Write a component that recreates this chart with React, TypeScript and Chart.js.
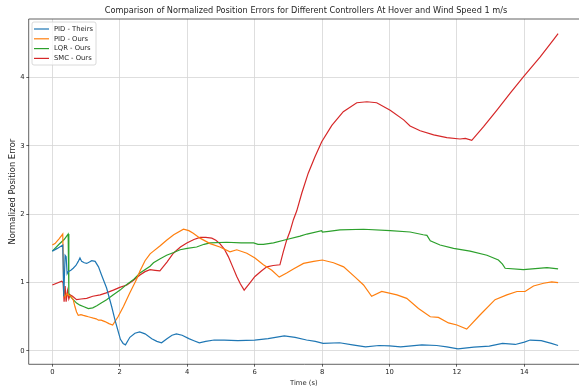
import React, { useEffect, useRef } from "react";
import { Chart, registerables } from "chart.js";

Chart.register(...registerables);

const titleText = "Comparison of Normalized Position Errors for Different Controllers At Hover and Wind Speed 1 m/s";
const xLabel = "Time (s)";
const yLabel = "Normalized Position Error";
const xTicks = [0, 2, 4, 6, 8, 10, 12, 14];
const yTicks = [0, 1, 2, 3, 4];
const seriesNames = ["PID - Theirs", "PID - Ours", "LQR - Ours", "SMC - Ours"];
const seriesColors = ["#1f77b4", "#ff7f0e", "#2ca02c", "#d62728"];

const tPidTheirs = [0, 0.15, 0.31, 0.34, 0.38, 0.41, 0.44, 0.47, 0.55, 0.62, 0.7, 0.77, 0.82, 0.87, 0.95, 1.02, 1.1, 1.17, 1.27, 1.37, 1.46, 1.61, 1.76, 1.86, 1.94, 2.02, 2.1, 2.17, 2.3, 2.45, 2.59, 2.75, 2.95, 3.1, 3.24, 3.4, 3.55, 3.68, 3.85, 4.05, 4.2, 4.36, 4.55, 4.8, 5.1, 5.5, 6.0, 6.4, 6.88, 7.2, 7.54, 7.8, 8.03, 8.52, 8.9, 9.29, 9.69, 10.0, 10.33, 10.65, 10.96, 11.4, 11.7, 12.03, 12.5, 12.96, 13.35, 13.73, 14.0, 14.17, 14.5, 14.8, 15.0];
const yPidTheirs = [1.46, 1.5, 1.55, 0.8, 1.4, 1.38, 1.13, 1.16, 1.18, 1.21, 1.25, 1.31, 1.36, 1.31, 1.29, 1.28, 1.3, 1.32, 1.31, 1.23, 1.11, 0.92, 0.65, 0.45, 0.31, 0.17, 0.11, 0.09, 0.2, 0.26, 0.28, 0.25, 0.18, 0.14, 0.12, 0.18, 0.23, 0.25, 0.23, 0.18, 0.15, 0.12, 0.14, 0.16, 0.16, 0.15, 0.16, 0.18, 0.22, 0.2, 0.16, 0.14, 0.11, 0.12, 0.09, 0.06, 0.08, 0.075, 0.06, 0.075, 0.09, 0.08, 0.06, 0.03, 0.055, 0.07, 0.11, 0.095, 0.13, 0.16, 0.15, 0.11, 0.08];

const tPidOurs = [0, 0.08, 0.2, 0.31, 0.34, 0.38, 0.43, 0.47, 0.55, 0.62, 0.67, 0.72, 0.77, 0.85, 0.92, 1.0, 1.07, 1.15, 1.22, 1.3, 1.37, 1.45, 1.56, 1.68, 1.79, 1.95, 2.11, 2.3, 2.5, 2.6, 2.75, 2.9, 3.0, 3.2, 3.39, 3.6, 3.89, 4.05, 4.18, 4.38, 4.68, 4.97, 5.27, 5.47, 5.77, 6.01, 6.26, 6.51, 6.73, 6.95, 7.15, 7.45, 7.75, 8.01, 8.34, 8.64, 8.98, 9.23, 9.47, 9.77, 10.22, 10.51, 10.86, 11.21, 11.45, 11.75, 12.0, 12.29, 12.69, 13.13, 13.48, 13.78, 14.02, 14.27, 14.57, 14.81, 15.0];
const yPidOurs = [1.55, 1.57, 1.64, 1.71, 0.85, 0.79, 0.84, 0.82, 0.8, 0.75, 0.65, 0.57, 0.52, 0.53, 0.52, 0.51, 0.5, 0.49, 0.48, 0.47, 0.45, 0.45, 0.43, 0.4, 0.38, 0.5, 0.65, 0.85, 1.05, 1.17, 1.32, 1.42, 1.46, 1.54, 1.62, 1.7, 1.78, 1.76, 1.72, 1.65, 1.57, 1.52, 1.45, 1.48, 1.43, 1.36, 1.26, 1.18, 1.08, 1.14, 1.2, 1.28, 1.31, 1.33, 1.29, 1.23, 1.08, 0.965, 0.8, 0.87, 0.82, 0.77, 0.62, 0.5, 0.49, 0.41, 0.38, 0.32, 0.53, 0.75, 0.82, 0.87, 0.87, 0.95, 0.99, 1.01, 1.0];

const tLqrOurs = [0, 0.2, 0.35, 0.47, 0.49, 0.53, 0.62, 0.72, 0.82, 0.92, 1.07, 1.2, 1.32, 1.45, 1.61, 1.8, 2.01, 2.2, 2.4, 2.6, 2.9, 3.0, 3.2, 3.39, 3.6, 3.79, 4.0, 4.28, 4.5, 4.68, 5.17, 5.6, 5.97, 6.1, 6.26, 6.56, 6.95, 7.35, 7.55, 7.99, 8.01, 8.2, 8.53, 9.23, 10.02, 10.61, 11.0, 11.11, 11.21, 11.5, 11.9, 12.39, 12.89, 13.23, 13.35, 13.43, 13.97, 14.67, 15.0];
const yLqrOurs = [1.46, 1.56, 1.63, 1.71, 0.85, 0.8, 0.75, 0.7, 0.67, 0.65, 0.62, 0.63, 0.66, 0.7, 0.75, 0.82, 0.89, 0.97, 1.04, 1.14, 1.24, 1.29, 1.35, 1.4, 1.44, 1.48, 1.5, 1.52, 1.56, 1.58, 1.59, 1.58, 1.58, 1.56, 1.56, 1.58, 1.63, 1.68, 1.71, 1.76, 1.74, 1.75, 1.77, 1.78, 1.76, 1.74, 1.7, 1.69, 1.61, 1.55, 1.5, 1.46, 1.4, 1.33, 1.27, 1.21, 1.19, 1.22, 1.2];

const tSmcOurs = [0, 0.28, 0.32, 0.35, 0.38, 0.41, 0.45, 0.49, 0.53, 0.6, 0.72, 0.85, 1.02, 1.2, 1.42, 1.6, 1.81, 2.0, 2.21, 2.4, 2.6, 2.75, 2.9, 3.05, 3.19, 3.4, 3.59, 3.8, 3.99, 4.2, 4.38, 4.55, 4.73, 4.85, 4.97, 5.1, 5.22, 5.35, 5.47, 5.58, 5.69, 5.85, 6.01, 6.2, 6.36, 6.55, 6.75, 6.85, 6.95, 7.05, 7.15, 7.25, 7.4, 7.59, 7.79, 7.99, 8.29, 8.63, 9.03, 9.33, 9.62, 10.02, 10.42, 10.61, 10.91, 11.31, 11.7, 12.09, 12.25, 12.44, 12.79, 13.18, 13.58, 13.97, 14.47, 14.86, 15.0];
const ySmcOurs = [0.965, 1.02, 1.0, 0.72, 0.95, 0.72, 0.88, 0.76, 0.82, 0.8, 0.75, 0.76, 0.77, 0.8, 0.82, 0.85, 0.89, 0.93, 0.965, 1.03, 1.11, 1.16, 1.19, 1.18, 1.17, 1.3, 1.43, 1.52, 1.58, 1.63, 1.66, 1.66, 1.65, 1.62, 1.57, 1.49, 1.38, 1.23, 1.09, 0.98, 0.89, 0.99, 1.09, 1.17, 1.23, 1.25, 1.26, 1.45, 1.62, 1.75, 1.92, 2.05, 2.31, 2.6, 2.84, 3.06, 3.3, 3.5, 3.63, 3.645, 3.63, 3.52, 3.38, 3.29, 3.22, 3.16, 3.12, 3.1, 3.11, 3.08, 3.28, 3.52, 3.77, 4.01, 4.3, 4.55, 4.64];

const FONT = "'DejaVu Sans', sans-serif";
const TXT = "#262626";

function pts(t: number[], y: number[]) {
  return t.map((v, i) => ({ x: v, y: y[i] }));
}

const framePlugin = {
  id: "frame",
  afterDatasetsDraw(chart: any) {
    const { ctx, chartArea: a } = chart;
    ctx.save();
    ctx.strokeStyle = "#3a3a3a";
    ctx.lineWidth = 0.8;
    ctx.beginPath();
    ctx.moveTo(a.right + 1, a.top);
    ctx.lineTo(a.left, a.top);
    ctx.lineTo(a.left, a.bottom);
    ctx.lineTo(a.right + 1, a.bottom);
    ctx.stroke();
    ctx.restore();
  },
};

const legendPlugin = {
  id: "mplLegend",
  afterDraw(chart: any) {
    const { ctx } = chart;
    ctx.save();
    const x = 32, y = 22, w = 64, h = 43, r = 2;
    ctx.beginPath();
    ctx.moveTo(x + r, y);
    ctx.lineTo(x + w - r, y);
    ctx.quadraticCurveTo(x + w, y, x + w, y + r);
    ctx.lineTo(x + w, y + h - r);
    ctx.quadraticCurveTo(x + w, y + h, x + w - r, y + h);
    ctx.lineTo(x + r, y + h);
    ctx.quadraticCurveTo(x, y + h, x, y + h - r);
    ctx.lineTo(x, y + r);
    ctx.quadraticCurveTo(x, y, x + r, y);
    ctx.closePath();
    ctx.fillStyle = "rgba(255,255,255,0.8)";
    ctx.fill();
    ctx.strokeStyle = "#d0d0d0";
    ctx.lineWidth = 0.8;
    ctx.stroke();
    ctx.font = `6.8px ${FONT}`;
    ctx.textBaseline = "middle";
    ctx.textAlign = "left";
    seriesNames.forEach((name, i) => {
      const ry = 29 + i * 9.8;
      ctx.strokeStyle = seriesColors[i];
      ctx.lineWidth = 1.2;
      ctx.beginPath();
      ctx.moveTo(34, ry);
      ctx.lineTo(49, ry);
      ctx.stroke();
      ctx.fillStyle = TXT;
      ctx.fillText(name, 54, ry);
    });
    ctx.restore();
  },
};

const titlePlugin = {
  id: "mplTitle",
  afterDraw(chart: any) {
    const { ctx } = chart;
    ctx.save();
    ctx.font = `8.2px ${FONT}`;
    ctx.fillStyle = TXT;
    ctx.textAlign = "center";
    ctx.textBaseline = "middle";
    ctx.fillText(titleText, 306, 11);
    ctx.restore();
  },
};

export default function App() {
  const ref = useRef<HTMLCanvasElement | null>(null);
  useEffect(() => {
    if (!ref.current) return;
    const series = [
      pts(tPidTheirs, yPidTheirs),
      pts(tPidOurs, yPidOurs),
      pts(tLqrOurs, yLqrOurs),
      pts(tSmcOurs, ySmcOurs),
    ];
    const chart = new Chart(ref.current, {
      type: "line",
      data: {
        datasets: series.map((d, i) => ({
          label: seriesNames[i],
          data: d,
          borderColor: seriesColors[i],
          backgroundColor: seriesColors[i],
          borderWidth: 1.2,
          pointRadius: 0,
          tension: 0,
          fill: false,
        })),
      },
      options: {
        animation: false,
        responsive: true,
        maintainAspectRatio: false,
        layout: { padding: { top: 19, left: 0, right: 0, bottom: 0 } },
        plugins: {
          legend: { display: false },
          title: { display: false },
          tooltip: { enabled: false },
        },
        scales: {
          x: {
            type: "linear",
            min: -0.7,
            max: 15.62,
            afterBuildTicks: (s: any) => {
              s.ticks = xTicks.map((v) => ({ value: v }));
            },
            afterFit: (s: any) => {
              s.height = 22.7;
            },
            grid: {
              color: "#d6d6d6",
              lineWidth: 0.8,
              tickColor: "#3a3a3a",
              tickLength: 2.4,
              tickWidth: 0.8,
            },
            border: { display: false },
            ticks: {
              color: TXT,
              font: { family: FONT, size: 6.8 },
              padding: 1.8,
              maxRotation: 0,
              autoSkip: false,
            },
            title: {
              display: true,
              text: xLabel,
              color: TXT,
              font: { family: FONT, size: 6.8 },
              padding: { top: 0, bottom: 0 },
            },
          },
          y: {
            type: "linear",
            min: -0.195,
            max: 4.855,
            afterBuildTicks: (s: any) => {
              s.ticks = yTicks.map((v) => ({ value: v }));
            },
            afterFit: (s: any) => {
              s.width = 28.7;
            },
            grid: {
              color: "#d6d6d6",
              lineWidth: 0.8,
              tickColor: "#3a3a3a",
              tickLength: 2.4,
              tickWidth: 0.8,
            },
            border: { display: false },
            ticks: {
              color: TXT,
              font: { family: FONT, size: 6.8 },
              padding: 1.8,
              autoSkip: false,
            },
            title: {
              display: true,
              text: yLabel,
              color: TXT,
              font: { family: FONT, size: 8.4 },
              padding: { top: 7.6, bottom: 0 },
            },
          },
        },
      },
      plugins: [framePlugin, legendPlugin, titlePlugin],
    });
    return () => chart.destroy();
  }, []);
  return (
    <div style={{ position: "absolute", left: 0, top: 0, width: 579, height: 387, overflow: "hidden", background: "#fff" }}>
      <canvas ref={ref} />
    </div>
  );
}
